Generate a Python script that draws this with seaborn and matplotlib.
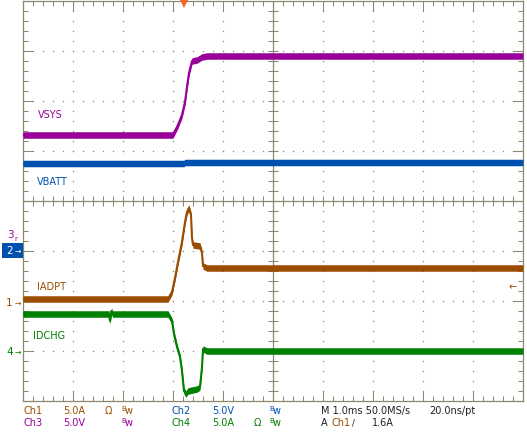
import numpy as np
import pandas as pd
import matplotlib
matplotlib.use("Agg")
import matplotlib.pyplot as plt
from matplotlib.patches import Rectangle
import seaborn as sns

# ---------------- data (time in ms relative to the trigger point) ----------------
vsys_t = [-3.22, -0.22, -0.12, -0.04, 0.02, 0.06, 0.10, 0.14, 0.16, 0.26, 0.36, 0.46, 6.78]
vsys_v = [11.6, 11.6, 12.6, 13.6, 14.9, 16.4, 17.8, 18.6, 19.0, 19.1, 19.4, 19.5, 19.5]

vbatt_t = [-3.22, 0.00, 0.02, 6.78]
vbatt_v = [8.75, 8.75, 8.85, 8.85]

iadpt_t = [-3.22, -0.32, -0.24, -0.18, -0.12, -0.04, 0.02, 0.06, 0.10, 0.14, 0.16, 0.18,
           0.32, 0.36, 0.38, 0.46, 6.78]
iadpt_a = [0.4, 0.4, 1.1, 2.5, 4.1, 6.1, 8.1, 9.1, 9.5, 8.8, 6.5, 5.8,
           5.7, 5.0, 3.7, 3.5, 3.5]

idchg_t = [-3.22, -1.50, -1.48, -1.45, -1.43, -0.32, -0.24, -0.20, -0.14, -0.08, -0.04,
           0.00, 0.04, 0.08, 0.26, 0.32, 0.36, 0.38, 0.46, 6.78]
idchg_a = [3.7, 3.7, 3.0, 4.0, 3.7, 3.7, 3.0, 1.7, 0.4, -0.6, -2.0,
           -4.0, -4.3, -4.0, -3.8, -3.6, -1.6, 0.2, 0.0, 0.0]

trace_names = ["VSYS", "VBATT", "IADPT", "IDCHG"]

# ---------------- scope settings ----------------
TRIG_DIV = 3.22          # trigger position, divisions from left
MS_PER_DIV = 1.0
CH = {  # scale per div, ground position in divisions from bottom
    "IADPT": (5.0, 1.96),   # Ch1
    "VBATT": (5.0, 3.0),    # Ch2
    "VSYS": (5.0, 3.0),     # Ch3
    "IDCHG": (5.0, 1.0),    # Ch4
}
COL = {"VSYS": "#990099", "VBATT": "#0050b0", "IADPT": "#9c4c00", "IDCHG": "#008000"}
GRID = "#8c8870"

W, H = 527, 441
sns.set_theme(style="white")
plt.rcParams["font.family"] = ["DejaVu Sans"]
plt.rcParams["lines.scale_dashes"] = False

fig = plt.figure(figsize=(W / 100, H / 100), dpi=100)
fig.patch.set_facecolor("white")
ax = fig.add_axes([23 / W, 40 / H, 500 / W, 400 / H])
ax.set_facecolor("white")
ax.set_xlim(0, 10)
ax.set_ylim(0, 8)

# frame + ticks
for s in ax.spines.values():
    s.set_color(GRID)
    s.set_linewidth(0.9)
ax.set_xticks(np.arange(0, 11, 1))
ax.set_yticks(np.arange(0, 9, 1))
ax.set_xticks(np.arange(0, 10.01, 0.2), minor=True)
ax.set_yticks(np.arange(0, 8.01, 0.2), minor=True)
ax.tick_params(which="both", direction="in", top=True, right=True, bottom=True, left=True,
               labelbottom=False, labelleft=False, color=GRID, width=0.75)
ax.tick_params(which="major", length=7.2)
ax.tick_params(which="minor", length=3.6)

# dotted graticule
dots_x, dots_y = [], []
minor = np.arange(0.2, 10.0, 0.2)
for gx in [1, 2, 3, 4, 6, 7, 8, 9]:
    for gy in np.arange(0.2, 8.0, 0.2):
        dots_x.append(gx); dots_y.append(gy)
for gy in [1, 2, 3, 5, 6, 7]:
    for gx in minor:
        dots_x.append(gx); dots_y.append(gy)
ax.plot(dots_x, dots_y, ls="none", marker="s", ms=0.9, mew=0, color=GRID, zorder=1)

# centre crosshair
ax.axhline(4, color=GRID, lw=0.9, zorder=1)
ax.axvline(5, color=GRID, lw=0.9, zorder=1)
ax.plot(minor, np.full(len(minor), 4.0), ls="none", marker="|", ms=7.2, mew=0.75, color=GRID, zorder=1)
ym = np.arange(0.2, 8.0, 0.2)
ax.plot(np.full(len(ym), 5.0), ym, ls="none", marker="_", ms=7.2, mew=0.75, color=GRID, zorder=1)

# traces
series = {"VSYS": (vsys_t, vsys_v), "VBATT": (vbatt_t, vbatt_v),
          "IADPT": (iadpt_t, iadpt_a), "IDCHG": (idchg_t, idchg_a)}
rows = []
for name in trace_names:
    t, v = series[name]
    scale, gnd = CH[name]
    for ti, vi in zip(t, v):
        rows.append({"trace": name, "x": ti / MS_PER_DIV + TRIG_DIV, "y": gnd + vi / scale})
df = pd.DataFrame(rows)

BAND = 0.065
for i, name in enumerate(["VBATT", "VSYS", "IADPT", "IDCHG"]):
    d = df[df.trace == name]
    ax.fill_between(d.x, d.y - BAND, d.y + BAND, color=COL[name], lw=0, zorder=3 + i)
    sns.lineplot(data=d, x="x", y="y", color=COL[name], lw=1.5, ax=ax, zorder=3 + i,
                 legend=False, estimator=None)
ax.set_xlabel("")
ax.set_ylabel("")


def ftext(px, py, s, color, size=7, **kw):
    fig.text(px / W, 1 - py / H, s, color=color, fontsize=size, va="center", ha="left", **kw)


# trace labels
ftext(38, 115, "VSYS", COL["VSYS"])
ftext(37, 182, "VBATT", COL["VBATT"])
ftext(37, 287, "IADPT", COL["IADPT"])
ftext(33, 336, "IDCHG", COL["IDCHG"])

# channel ground markers
ftext(7, 235, "3", COL["VSYS"], size=7.5)
ftext(14, 239, "r", COL["VSYS"], size=5)
fig.patches.append(Rectangle((2 / W, 1 - 258 / H), 21 / W, 15 / H, transform=fig.transFigure,
                             facecolor="#0050b0", edgecolor="none"))
ftext(6, 251, "2", "white", size=7.5)
ftext(15, 251, "\u2192", "white", size=5.5)
ftext(6, 303, "1", COL["IADPT"], size=7.5)
ftext(15, 303, "\u2192", COL["IADPT"], size=5.5)
ftext(6, 352, "4", COL["IDCHG"], size=7.5)
ftext(15, 352, "\u2192", COL["IDCHG"], size=5.5)
ftext(509, 287, "\u2190", COL["IADPT"], size=7)

# trigger position marker
ax.plot([TRIG_DIV], [7.94], marker="v", ms=6, color="#f26a24", mew=0, clip_on=False, zorder=10)

# status lines
R1, R2 = 411, 423
BRN, PUR, BLU, GRN, BLK = COL["IADPT"], COL["VSYS"], COL["VBATT"], COL["IDCHG"], "#202020"


def bw(px, py, color):
    ftext(px, py - 2, "B", color, size=5)
    ftext(px + 4, py, "w", color, size=7)


ftext(23, R1, "Ch1", BRN); ftext(63, R1, "5.0A", BRN); ftext(105, R1, "\u03a9", BRN); bw(121, R1, BRN)
ftext(172, R1, "Ch2", BLU); ftext(212, R1, "5.0V", BLU); bw(269, R1, BLU)
ftext(321, R1, "M 1.0ms 50.0MS/s", BLK); ftext(429, R1, "20.0ns/pt", BLK)
ftext(23, R2, "Ch3", PUR); ftext(63, R2, "5.0V", PUR); bw(121, R2, PUR)
ftext(172, R2, "Ch4", GRN); ftext(212, R2, "5.0A", GRN); ftext(254, R2, "\u03a9", GRN); bw(269, R2, GRN)
ftext(321, R2, "A", BLK); ftext(332, R2, "Ch1", BRN); ftext(352, R2, "/", BLK, size=6)
ftext(372, R2, "1.6A", BLK)

fig.savefig("out.png", dpi=100, facecolor="white")
